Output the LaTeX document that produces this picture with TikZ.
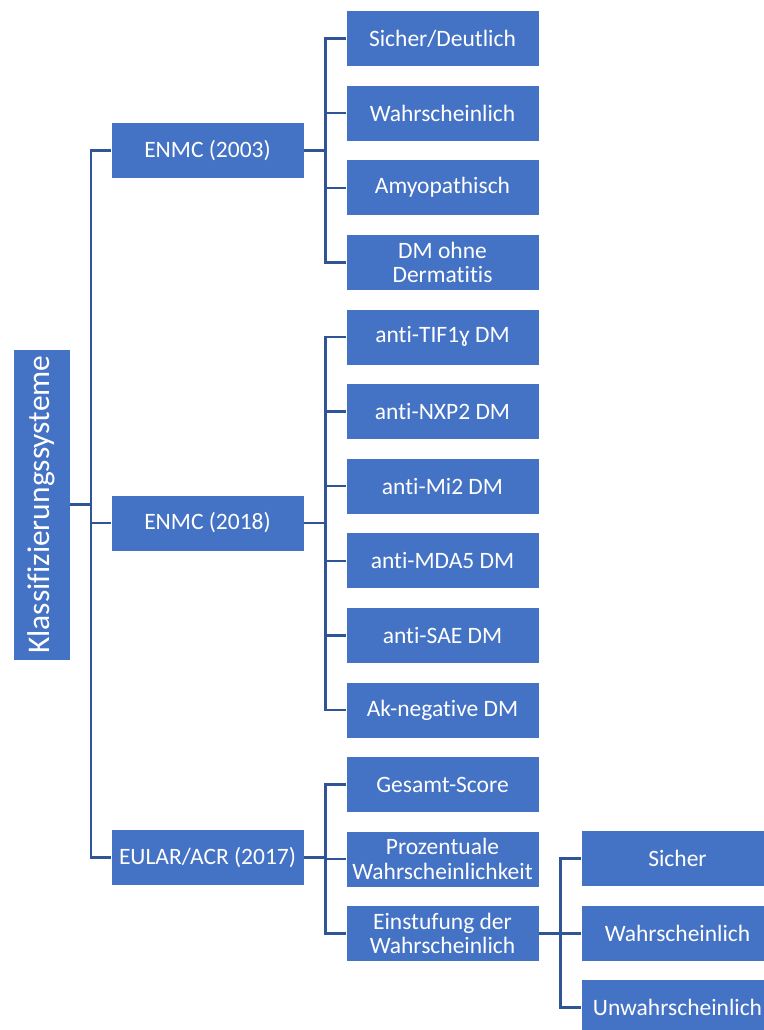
\documentclass[tikz,border=0pt]{standalone}
\usepackage{fontspec}
\setmainfont{Carlito}[RawFeature={-liga}]
\definecolor{boxblue}{RGB}{68,114,196}
\definecolor{lineblue}{RGB}{47,85,151}
\tikzset{
  bx/.style={fill=boxblue, draw=white, line width=0.8pt, minimum width=193pt, minimum height=56pt,
    inner sep=0pt, align=center, text=white, font=\fontsize{23.5}{24.5}\selectfont},
  rootbx/.style={fill=boxblue, draw=white, line width=0.8pt, minimum width=311pt, minimum height=57pt,
    inner sep=0pt, text=white, rotate=90, font=\fontsize{31.5}{33}\selectfont},
  conn/.style={draw=lineblue, line width=2.4pt}
}
\begin{document}
\begin{tikzpicture}[x=1pt,y=-1pt]
\useasboundingbox (0,0) rectangle (763,1030);
\node[rootbx] (root) at (41.5,504.5) {Klassifizierungssysteme};
\node[bx] (a) at (207.5,150.5) {ENMC (2003)};
\node[bx] (b) at (207.5,523) {ENMC (2018)};
\node[bx] (c) at (207.5,857.5) {EULAR/ACR (2017)};
\node[bx] (a1) at (442.5,38.5) {Sicher/Deutlich};
\node[bx] (a2) at (442.5,113.1) {Wahrscheinlich};
\node[bx] (a3) at (442.5,187.7) {Amyopathisch};
\node[bx] (a4) at (442.5,262.3) {DM ohne\\Dermatitis};
\node[bx] (b1) at (442.5,336.9) {anti-TIF1ɣ DM};
\node[bx] (b2) at (442.5,411.5) {anti-NXP2 DM};
\node[bx] (b3) at (442.5,486.1) {anti-Mi2 DM};
\node[bx] (b4) at (442.5,560.7) {anti-MDA5 DM};
\node[bx] (b5) at (442.5,635.3) {anti-SAE DM};
\node[bx] (b6) at (442.5,709.9) {Ak-negative DM};
\node[bx] (c1) at (442.5,784.5) {Gesamt-Score};
\node[bx] (c2) at (442.5,859.1) {Prozentuale\\Wahrscheinlichkeit};
\node[bx] (c3) at (442.5,933.3) {Einstufung der\\Wahrscheinlich};
\node[bx] (d1) at (677.5,858.5) {Sicher};
\node[bx] (d2) at (677.5,933.3) {Wahrscheinlich};
\node[bx] (d3) at (677.5,1007.5) {Unwahrscheinlich};
\foreach \ch in {a,b,c} \draw[conn] (root.south) -- ++(20.5,0) |- (\ch.west);
\foreach \ch in {a1,a2,a3,a4} \draw[conn] (a.east) -- ++(21,0) |- (\ch.west);
\foreach \ch in {b1,b2,b3,b4,b5,b6} \draw[conn] (b.east) -- ++(21,0) |- (\ch.west);
\foreach \ch in {c1,c2,c3} \draw[conn] (c.east) -- ++(21,0) |- (\ch.west);
\foreach \ch in {d1,d2,d3} \draw[conn] (c3.east) -- ++(21,0) |- (\ch.west);
\end{tikzpicture}
\end{document}
